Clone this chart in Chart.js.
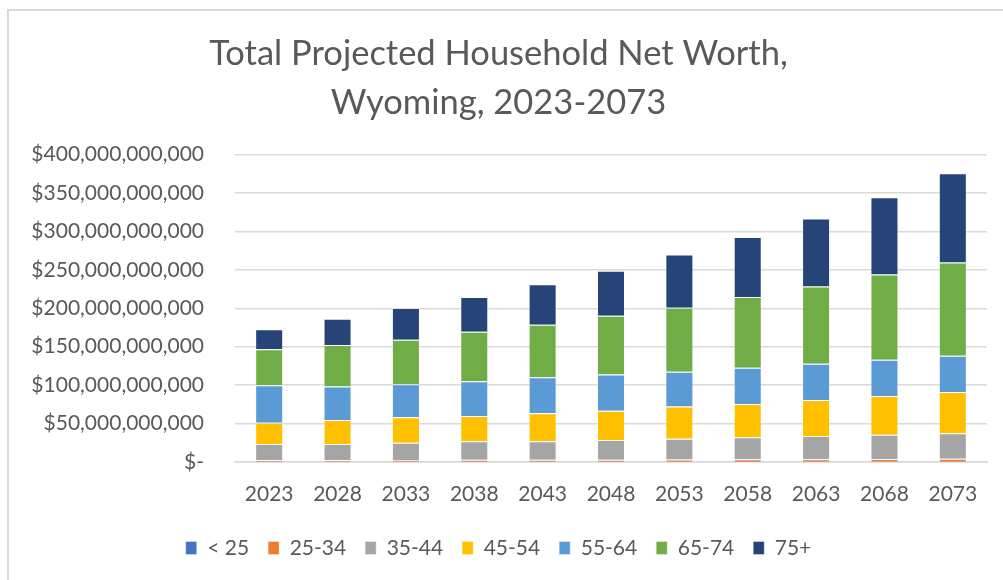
<!DOCTYPE html>
<html>
<head>
<meta charset="utf-8">
<script src="https://cdn.jsdelivr.net/npm/chart.js@4"></script>
<style>
  html, body { margin: 0; padding: 0; background: #ffffff; }
  #wrap { position: relative; width: 1003px; height: 580px; overflow: hidden; }
  #frame { position: absolute; left: 7px; top: 9px; width: 1020px; height: 600px; border: 2px solid #d9d9d9; box-sizing: border-box; }
  canvas { position: absolute; left: 0; top: 0; }
</style>
</head>
<body>
<div id="wrap">
  <div id="frame"></div>
  <canvas id="c" width="1003" height="580"></canvas>
</div>
<script>
// Categories (projection years)
const years = ['2023','2028','2033','2038','2043','2048','2053','2058','2063','2068','2073'];

// Age-group series, values in billions of dollars
const under25 = [0.3, 0.3, 0.3, 0.3, 0.3, 0.3, 0.4, 0.4, 0.4, 0.4, 0.4];
const age25_34 = [2.3, 2.3, 2.4, 2.5, 2.6, 2.7, 2.9, 3.1, 3.3, 3.5, 3.7];
const age35_44 = [20.9, 20.9, 22.4, 24.2, 24.1, 25.7, 27.1, 28.7, 30.2, 31.7, 33.3];
const age45_54 = [27.7, 31.2, 33.1, 32.9, 36.4, 38.1, 41.7, 43.4, 46.9, 50.4, 53.8];
const age55_64 = [48.7, 43.4, 43.0, 45.2, 47.0, 46.9, 45.2, 46.9, 46.9, 46.9, 46.9];
const age65_74 = [46.9, 54.3, 57.8, 64.3, 68.1, 76.5, 83.4, 92.1, 100.7, 111.1, 121.6];
const age75plus = [26.1, 33.9, 41.3, 45.2, 52.8, 58.7, 69.4, 78.2, 88.6, 100.4, 115.9];

const seriesNames = ['< 25', '25-34', '35-44', '45-54', '55-64', '65-74', '75+'];
const seriesColors = ['#4472C4', '#ED7D31', '#A5A5A5', '#FFC000', '#5B9BD5', '#70AD47', '#264478'];
const seriesValues = [under25, age25_34, age35_44, age45_54, age55_64, age65_74, age75plus];

const titleLines = ['Total Projected Household Net Worth,', 'Wyoming, 2023-2073'];

const BILLION = 1e9;
const FONT = 'Lato';
const TEXT = '#595959';

const datasets = seriesNames.map((name, i) => ({
  label: name,
  data: seriesValues[i].map(v => v * BILLION),
  backgroundColor: seriesColors[i],
  borderColor: 'rgba(255,255,255,0.35)',
  borderWidth: 1,
  categoryPercentage: 1.0,
  barPercentage: 0.41
}));

new Chart(document.getElementById('c'), {
  type: 'bar',
  data: { labels: years, datasets },
  options: {
    responsive: false,
    animation: false,
    layout: { padding: { left: 10, right: 16, top: 0, bottom: 11.5 } },
    plugins: {
      title: {
        display: true,
        text: titleLines,
        color: TEXT,
        font: { family: FONT, size: 34.5, weight: 'normal', lineHeight: 1.4 },
        padding: { top: 30, bottom: 28 }
      },
      legend: {
        position: 'bottom',
        labels: {
          color: TEXT,
          font: { family: FONT, size: 21 },
          boxWidth: 11,
          boxHeight: 13,
          padding: 19
        }
      },
      tooltip: { enabled: false }
    },
    scales: {
      x: {
        stacked: true,
        grid: { display: false, drawTicks: false },
        border: { display: true, color: '#d9d9d9', width: 1.5 },
        ticks: { color: TEXT, font: { family: FONT, size: 21 }, padding: 20 },
        afterFit: s => { s.height = 56.5; }
      },
      y: {
        stacked: true,
        min: 0,
        max: 400 * BILLION,
        grid: { color: '#d9d9d9', lineWidth: 1.5, drawTicks: false },
        border: { display: false },
        ticks: {
          stepSize: 50 * BILLION,
          color: TEXT,
          font: { family: FONT, size: 21 },
          padding: 31,
          callback: v => v === 0 ? '$-' : '$' + Number(v).toLocaleString('en-US')
        },
        afterFit: s => { s.width = 225; }
      }
    }
  }
});
</script>
</body>
</html>
